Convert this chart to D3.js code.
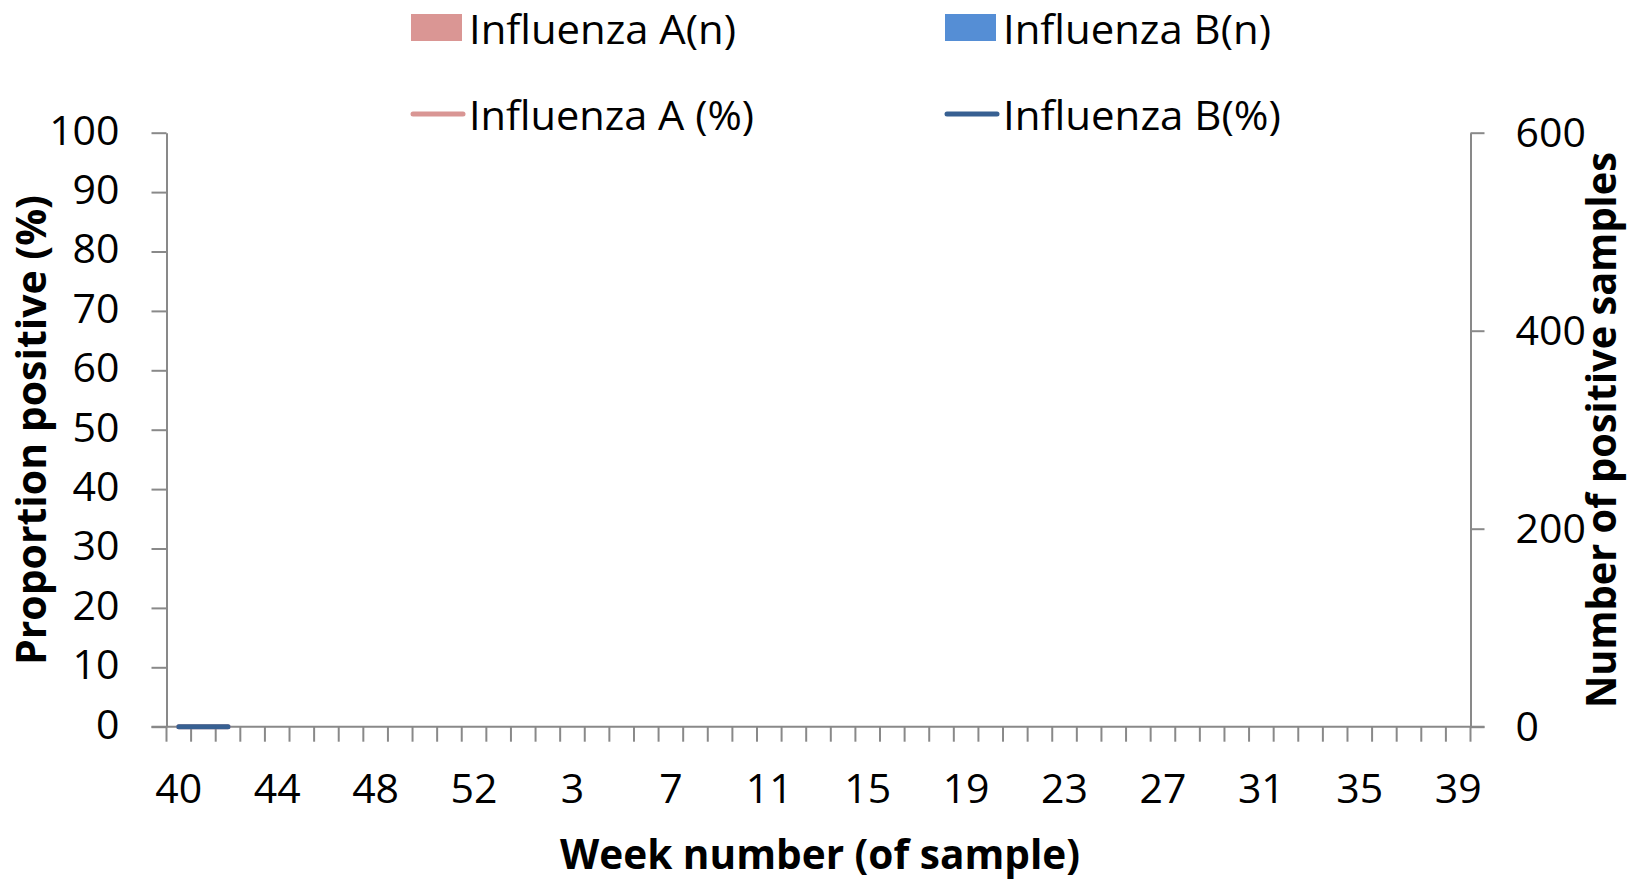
<!DOCTYPE html>
<html>
<head>
<meta charset="utf-8">
<script src="https://cdn.jsdelivr.net/npm/d3@7"></script>
<style>
  html, body { margin: 0; padding: 0; background: #ffffff; }
  svg { display: block; }
  text { font-family: "Open Sans", "Noto Sans", sans-serif; fill: #000; }
</style>
</head>
<body>
<svg id="chart" width="1637" height="880"></svg>
<script>
// ---- data ----
const weeks = [40,41,42,43,44,45,46,47,48,49,50,51,52,53,1,2,3,4,5,6,7,8,9,10,11,12,13,14,15,16,17,18,19,20,21,22,23,24,25,26,27,28,29,30,31,32,33,34,35,36,37,38,39];
const tickWeeks = [40,44,48,52,3,7,11,15,19,23,27,31,35,39];
// counts (bars) – only the first three weeks have data, all zero
const fluA_n = [0,0,0];
const fluB_n = [0,0,0];
// percentages (lines)
const fluA_pct = [0,0,0];
const fluB_pct = [0,0,0];
const leftTicks = [0,10,20,30,40,50,60,70,80,90,100];
const rightTicks = [0,200,400,600];
const seriesNames = ["Influenza A(n)", "Influenza B(n)", "Influenza A (%)", "Influenza B(%)"];
const colors = { aBar: "#DA9694", bBar: "#558ED5", aLine: "#D99694", bLine: "#376092", axis: "#898989" };

// ---- layout ----
const svg = d3.select("#chart");
const L = 166.5, R = 1470.5, T = 132.7, B = 726.7;

const x = d3.scaleBand().domain(d3.range(weeks.length)).range([L, R]).padding(0);
const yL = d3.scaleLinear().domain([0, 100]).range([B, T]);
const yR = d3.scaleLinear().domain([0, 600]).range([B, T]);

// ---- bars (stacked counts) ----
const barG = svg.append("g");
fluA_n.forEach((v, i) => {
  barG.append("rect")
    .attr("x", x(i) + x.bandwidth() * 0.1).attr("width", x.bandwidth() * 0.8)
    .attr("y", yR(v)).attr("height", yR(0) - yR(v)).attr("fill", colors.aBar);
});
fluB_n.forEach((v, i) => {
  const base = fluA_n[i];
  barG.append("rect")
    .attr("x", x(i) + x.bandwidth() * 0.1).attr("width", x.bandwidth() * 0.8)
    .attr("y", yR(base + v)).attr("height", yR(base) - yR(base + v)).attr("fill", colors.bBar);
});

// ---- axes ----
const axisG = svg.append("g");
const gl = axisG.append("g").attr("transform", `translate(${L},0)`)
  .call(d3.axisLeft(yL).tickValues(leftTicks).tickSize(15).tickPadding(32).tickSizeOuter(0));
gl.selectAll("text").attr("dy", "0.28em");
const gr = axisG.append("g").attr("transform", `translate(${R},0)`)
  .call(d3.axisRight(yR).tickValues(rightTicks).tickSize(14).tickPadding(31).tickSizeOuter(0));
gr.selectAll("text").attr("dy", "0.34em");
axisG.append("line").attr("x1", L - 15).attr("x2", R + 14).attr("y1", B).attr("y2", B);
const bounds = d3.range(weeks.length + 1).map(i => i < weeks.length ? x(i) : R);
axisG.selectAll(".xt").data(bounds).join("line").attr("class", "xt")
  .attr("x1", d => d).attr("x2", d => d).attr("y1", B).attr("y2", B + 15);
axisG.selectAll(".xl").data(weeks.map((w, i) => ({ w, i })).filter(d => tickWeeks.includes(d.w)))
  .join("text").attr("class", "xl")
  .attr("x", d => x(d.i) + x.bandwidth() / 2).attr("y", 803)
  .attr("text-anchor", "middle").style("font-size", "41px").text(d => d.w);

axisG.selectAll("path.domain").attr("stroke", colors.axis).attr("stroke-width", 2);
axisG.selectAll("line").attr("stroke", colors.axis).attr("stroke-width", 2);
axisG.selectAll(".tick text").style("font-size", "41px").attr("fill", "#000");

// ---- lines ----
const line = d3.line().defined(d => d != null).x((d, i) => x(i) + x.bandwidth() / 2);
svg.append("path").datum(fluA_pct)
  .attr("d", line.y(d => yL(d))).attr("fill", "none")
  .attr("stroke", colors.aLine).attr("stroke-width", 5).attr("stroke-linecap", "round").attr("stroke-linejoin", "round");
svg.append("path").datum(fluB_pct)
  .attr("d", line.y(d => yL(d))).attr("fill", "none")
  .attr("stroke", colors.bLine).attr("stroke-width", 5).attr("stroke-linecap", "round").attr("stroke-linejoin", "round");

// ---- axis titles ----
svg.append("text").attr("transform", `translate(46,430) rotate(-90)`)
  .attr("text-anchor", "middle").style("font-size", "42px").style("font-weight", "bold")
  .attr("textLength", 470).attr("lengthAdjust", "spacingAndGlyphs")
  .text("Proportion positive (%)");
svg.append("text").attr("transform", `translate(1616,430) rotate(-90)`)
  .attr("text-anchor", "middle").style("font-size", "42px").style("font-weight", "bold")
  .attr("textLength", 556).attr("lengthAdjust", "spacingAndGlyphs")
  .text("Number of positive samples");
svg.append("text").attr("x", 820).attr("y", 869)
  .attr("text-anchor", "middle").style("font-size", "42px").style("font-weight", "bold")
  .attr("textLength", 520).attr("lengthAdjust", "spacingAndGlyphs")
  .text("Week number (of sample)");

// ---- legend ----
const leg = svg.append("g");
const legItems = [
  { name: seriesNames[0], type: "rect", color: colors.aBar, x: 411, y: 28, w: 267 },
  { name: seriesNames[1], type: "rect", color: colors.bBar, x: 945, y: 28, w: 268 },
  { name: seriesNames[2], type: "line", color: colors.aLine, x: 411, y: 114, w: 285 },
  { name: seriesNames[3], type: "line", color: colors.bLine, x: 945, y: 114, w: 278 }
];
legItems.forEach(d => {
  if (d.type === "rect") {
    leg.append("rect").attr("x", d.x).attr("y", d.y - 14).attr("width", 51).attr("height", 27).attr("fill", d.color);
  } else {
    leg.append("line").attr("x1", d.x + 2).attr("x2", d.x + 52).attr("y1", d.y).attr("y2", d.y)
      .attr("stroke", d.color).attr("stroke-width", 5).attr("stroke-linecap", "round");
  }
  leg.append("text").attr("x", d.x + 58).attr("y", d.y + 15.5)
    .style("font-size", "41px")
    .attr("textLength", d.w).attr("lengthAdjust", "spacingAndGlyphs")
    .text(d.name);
});
</script>
</body>
</html>
